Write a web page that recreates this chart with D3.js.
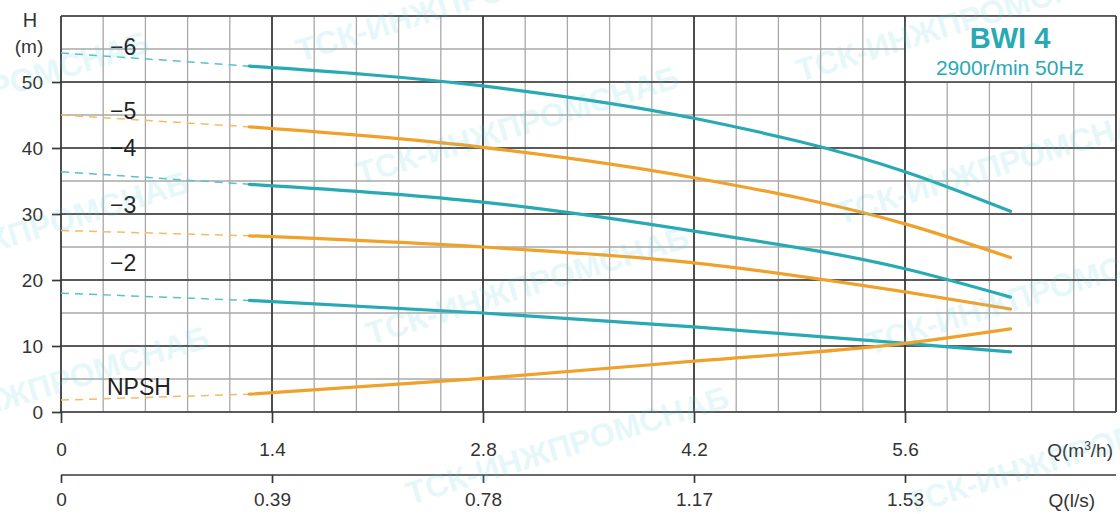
<!DOCTYPE html>
<html lang="ru">
<head>
  <meta charset="UTF-8" />
  <title>BWI 4 pump curves</title>
  <script src="https://d3js.org/d3.v7.min.js"></script>
  <style>
    body { margin: 0; background: #fff; }
    svg { display: block; font-family: "Liberation Sans", Arial, sans-serif; }
    .tick text { fill: #333; }
  </style>
</head>
<body>
  <svg id="chart" width="1120" height="514"></svg>

  <script>
    // flow points where the solid curves are drawn (m3/h)
    const qSolid = [1.25, 2.8, 4.2, 5.6, 6.3];

    // head per stage count (m)
    const head6 = [52.4, 49.4, 44.5, 36.4, 30.4];
    const head5 = [43.2, 40.1, 35.5, 28.5, 23.4];
    const head4 = [34.5, 31.8, 27.4, 21.7, 17.4];
    const head3 = [26.7, 25.0, 22.6, 18.2, 15.6];
    const head2 = [16.9, 15.0, 12.9, 10.4, 9.1];
    const npsh  = [2.7, 5.1, 7.7, 10.4, 12.6];

    // extrapolated value at Q = 0 (dashed part)
    const shutoff = [54.4, 45.0, 36.4, 27.5, 18.0, 1.8];
    const curveNames = ["−6", "−5", "−4", "−3", "−2", "NPSH"];

    const qTicks = [0, 1.4, 2.8, 4.2, 5.6];
    const lsLabels = ["0", "0.39", "0.78", "1.17", "1.53"];
    const hTicks = [0, 10, 20, 30, 40, 50];

    const cyan = "#28a9b3", orange = "#f0a12c";
    const cyanDash = "#5cc1c9", orangeDash = "#f4bb66";

    const series = [head6, head5, head4, head3, head2, npsh].map((h, i) => ({
      name: curveNames[i],
      color: i % 2 === 0 ? cyan : orange,
      dash: i % 2 === 0 ? cyanDash : orangeDash,
      start: shutoff[i],
      pts: qSolid.map((q, j) => [q, h[j]])
    }));

    const svg = d3.select("#chart");
    const x = d3.scaleLinear().domain([0, 7]).range([61, 1116]);
    const y = d3.scaleLinear().domain([0, 60]).range([412, 16]);

    // grid
    const grid = svg.append("g");
    const minorQ = d3.range(0, 26).map(i => i * 0.28);
    const minorH = d3.range(0, 13).map(i => i * 5);
    grid.selectAll(".vx").data(minorQ).join("line")
      .attr("x1", d => x(d)).attr("x2", d => x(d))
      .attr("y1", y(60)).attr("y2", y(0))
      .attr("stroke", "#a8a8a8").attr("stroke-width", 1.3);
    grid.selectAll(".hy").data(minorH).join("line")
      .attr("x1", x(0)).attr("x2", x(7))
      .attr("y1", d => y(d)).attr("y2", d => y(d))
      .attr("stroke", "#a8a8a8").attr("stroke-width", 1.3);

    // title box has no minor grid
    grid.append("rect")
      .attr("x", x(5.6)).attr("y", y(60))
      .attr("width", x(7) - x(5.6)).attr("height", y(50) - y(60))
      .attr("fill", "#fff");

    const majorQ = [0, 1.4, 2.8, 4.2, 5.6, 7];
    const majorH = [0, 10, 20, 30, 40, 50, 60];
    grid.selectAll(".mx").data(majorQ).join("line")
      .attr("x1", d => x(d)).attr("x2", d => x(d))
      .attr("y1", y(60)).attr("y2", y(0))
      .attr("stroke", "#383838").attr("stroke-width", 1.7);
    grid.selectAll(".my").data(majorH).join("line")
      .attr("x1", x(0)).attr("x2", x(7))
      .attr("y1", d => y(d)).attr("y2", d => y(d))
      .attr("stroke", "#383838").attr("stroke-width", 1.7);

    // axes
    const yAxis = svg.append("g")
      .attr("transform", `translate(${x(0)},0)`)
      .call(d3.axisLeft(y).tickValues(hTicks).tickSize(9).tickPadding(9).tickSizeOuter(0));
    yAxis.select(".domain").remove();
    yAxis.selectAll("line").attr("stroke", "#383838").attr("stroke-width", 1.7);
    yAxis.selectAll("text").style("font-size", "19px");

    const xAxis = svg.append("g")
      .attr("transform", `translate(0,${y(0)})`)
      .call(d3.axisBottom(x).tickValues(qTicks).tickFormat(d3.format("")).tickSize(11).tickPadding(20).tickSizeOuter(0));
    xAxis.select(".domain").remove();
    xAxis.selectAll("line").attr("stroke", "#383838").attr("stroke-width", 1.7);
    xAxis.selectAll("text").style("font-size", "19px");

    // second scale in l/s under the m3/h one
    const lsY = 475;
    svg.append("line")
      .attr("x1", x(0)).attr("x2", x(7)).attr("y1", lsY).attr("y2", lsY)
      .attr("stroke", "#383838").attr("stroke-width", 1.7);
    const lsAxis = svg.append("g")
      .attr("transform", `translate(0,${lsY})`)
      .call(d3.axisBottom(x).tickValues(qTicks).tickFormat((d, i) => lsLabels[i]).tickSize(8).tickPadding(10).tickSizeOuter(0));
    lsAxis.select(".domain").remove();
    lsAxis.selectAll("line").attr("stroke", "#383838").attr("stroke-width", 1.7);
    lsAxis.selectAll("text").style("font-size", "19px");

    // axis titles
    svg.append("text").attr("x", 30).attr("y", 27).attr("text-anchor", "middle")
      .style("font-size", "20px").attr("fill", "#333").text("H");
    svg.append("text").attr("x", 29).attr("y", 53).attr("text-anchor", "middle")
      .style("font-size", "19px").attr("fill", "#333").text("(m)");
    const qt = svg.append("text").attr("x", 1113).attr("y", 457).attr("text-anchor", "end")
      .style("font-size", "19px").attr("fill", "#333");
    qt.append("tspan").text("Q(m");
    qt.append("tspan").attr("dy", -7).style("font-size", "12px").text("3");
    qt.append("tspan").attr("dy", 7).text("/h)");
    svg.append("text").attr("x", 1095).attr("y", 507).attr("text-anchor", "end")
      .style("font-size", "19px").attr("fill", "#333").text("Q(l/s)");

    // curves: dashed from Q=0, solid over the working range
    const line = d3.line().x(d => x(d[0])).y(d => y(d[1])).curve(d3.curveMonotoneX);
    const curves = svg.append("g");
    series.forEach(s => {
      curves.append("line")
        .attr("x1", x(0)).attr("y1", y(s.start))
        .attr("x2", x(s.pts[0][0])).attr("y2", y(s.pts[0][1]))
        .attr("stroke", s.dash).attr("stroke-width", 1.5)
        .attr("stroke-dasharray", "8,6");
      curves.append("path")
        .datum(s.pts)
        .attr("fill", "none")
        .attr("stroke", s.color)
        .attr("stroke-width", 3.2)
        .attr("stroke-linecap", "round")
        .attr("d", line);
    });

    // curve labels (baseline head, m)
    const labelH = [54.1, 44.4, 38.8, 30.2, 21.4, 2.6];
    svg.append("g").selectAll("text").data(series).join("text")
      .attr("x", (d, i) => i === 5 ? 107 : 110)
      .attr("y", (d, i) => y(labelH[i]))
      .style("font-size", "23px")
      .attr("fill", "#222")
      .text(d => d.name);

    // title
    svg.append("text").attr("x", 1010).attr("y", 48).attr("text-anchor", "middle")
      .style("font-size", "29px").style("font-weight", "bold").attr("fill", cyan).text("BWI 4");
    svg.append("text").attr("x", 1010).attr("y", 75).attr("text-anchor", "middle")
      .style("font-size", "21px").attr("fill", cyan).text("2900r/min 50Hz");

    // faint watermark on top, clipped by the picture edges like the original
    const wmStarts = [[300, 62], [800, 82], [-170, 150], [360, 185], [840, 225], [-130, 290],
      [370, 345], [870, 355], [-110, 445], [410, 505], [910, 515]];
    svg.append("g").selectAll("text").data(wmStarts).join("text")
      .attr("transform", d => `translate(${d[0]},${d[1]}) rotate(-17)`)
      .style("font-size", "32px").style("font-weight", "bold")
      .attr("fill", "#5fd0da").attr("opacity", 0.15)
      .text("ТСК-ИНЖПРОМСНАБ");
  </script>
</body>
</html>
